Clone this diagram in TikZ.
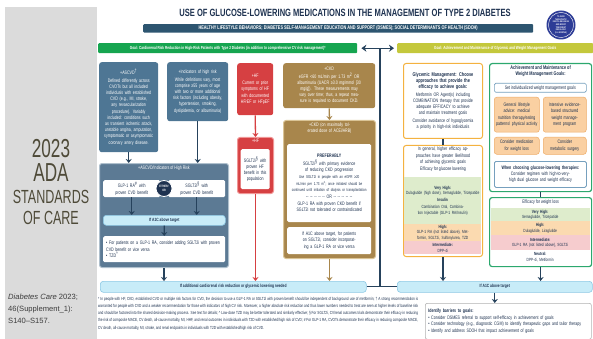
\documentclass[tikz,border=0pt]{standalone}
\usepackage{fontspec}
\setmainfont{Liberation Sans}
\newfontfamily\dfont[FakeStretch=0.72]{Liberation Sans}
\newfontfamily\cfont[FakeStretch=0.66]{Liberation Sans}
\usetikzlibrary{arrows.meta,positioning}

\definecolor{panelgray}{RGB}{219,219,219}
\definecolor{paneltext}{RGB}{78,74,56}
\definecolor{navy}{RGB}{30,50,80}
\definecolor{bannerblue}{RGB}{45,85,112}
\definecolor{sealblue}{RGB}{45,60,150}
\definecolor{goalgreen}{RGB}{22,165,80}
\definecolor{goalolive}{RGB}{196,200,60}
\definecolor{steel}{RGB}{78,118,148}
\definecolor{steeldark}{RGB}{92,122,148}
\definecolor{steelrim}{RGB}{175,192,205}
\definecolor{ifblue}{RGB}{200,236,248}
\definecolor{ifrim}{RGB}{140,200,228}
\definecolor{hfred}{RGB}{214,64,66}
\definecolor{hfrim}{RGB}{240,150,150}
\definecolor{ckdgold}{RGB}{168,134,76}
\definecolor{ckdrim}{RGB}{218,196,150}
\definecolor{glyorange}{RGB}{244,178,64}
\definecolor{wtgreen}{RGB}{44,168,110}
\definecolor{vhband}{RGB}{222,236,204}
\definecolor{hiband}{RGB}{251,218,176}
\definecolor{inband}{RGB}{246,204,206}
\definecolor{wtbox}{RGB}{250,208,162}
\definecolor{wtboxrim}{RGB}{238,172,104}
\definecolor{setrim}{RGB}{118,160,190}
\definecolor{linknavy}{RGB}{38,66,92}
\definecolor{citegray}{RGB}{60,60,60}

\begin{document}
\begin{tikzpicture}[x=1pt,y=-1pt]
\tikzset{txt/.style={font=\dfont\fontsize{5}{6.2}\selectfont, align=center, inner sep=1pt}}
\tikzset{box/.style={txt, rectangle, rounded corners=2.5pt, anchor=north west}}
\tikzset{blue box/.style={box, fill=steel, text=white}}
\tikzset{white box/.style={box, fill=white, text=navy, rounded corners=1.5pt}}
\tikzset{if bar/.style={box, fill=ifblue, draw=ifrim, line width=0.6pt, rounded corners=3pt, text=navy, font=\dfont\bfseries\fontsize{4.6}{5}\selectfont}}
\tikzset{band/.style={txt, rectangle, anchor=north west, text=navy, inner sep=0.5pt, font=\dfont\fontsize{4.5}{5.5}\selectfont}}
\tikzset{goal bar/.style={anchor=north west, text=white, inner sep=0pt, rounded corners=1pt, font=\dfont\bfseries\fontsize{4.4}{5}\selectfont}}
\tikzset{connector/.style={draw=linknavy, line width=1.3pt}}
\tikzset{arrowed/.style={-{Stealth[width=6pt,length=4pt]}}}
\tikzset{big/.style={text=paneltext, inner sep=0pt}}
\useasboundingbox (0,0) rectangle (593,339);

\fill[panelgray] (5,7) rectangle (97,339);
\node[big, font=\cfont\fontsize{26}{26}\selectfont] (yr) at (51,149) {2023};
\node[big, font=\cfont\fontsize{26}{26}\selectfont] (ada) at (51,173) {ADA};
\node[big, font=\cfont\fontsize{19}{19}\selectfont] (std) at (51,197) {STANDARDS};
\node[big, font=\cfont\fontsize{19}{19}\selectfont] (care) at (51,218) {OF CARE};
\node[anchor=north west, align=left, inner sep=0pt, text=citegray, font=\fontsize{7.6}{12}\selectfont] (cite) at (8,294) {\textit{Diabetes Care} 2023;\\46(Supplement\_1):\\S140--S157.};

\node[text=navy, font=\dfont\bfseries\fontsize{10.5}{11}\selectfont] (title) at (345,12.5) {USE OF GLUCOSE-LOWERING MEDICATIONS IN THE MANAGEMENT OF TYPE 2 DIABETES};
\node[goal bar, fill=bannerblue, minimum width=390, minimum height=8.5, font=\dfont\bfseries\fontsize{5.3}{5}\selectfont] (banner) at (143,24) {HEALTHY LIFESTYLE BEHAVIORS; DIABETES SELF-MANAGEMENT EDUCATION AND SUPPORT (DSMES); SOCIAL DETERMINANTS OF HEALTH (SDOH)};
\node[circle, fill=sealblue, minimum size=29, inner sep=0pt, align=center, text=white, font=\dfont\bfseries\fontsize{2.3}{2.7}\selectfont] (seal) at (561,25) {TO AVOID\\THERAPEUTIC\\INERTIA REASSESS\\AND MODIFY\\TREATMENT\\REGULARLY\\(3--6 MONTHS)};
\draw[white, line width=0.4pt] (seal.center) circle (12.6);

\node[goal bar, fill=goalgreen, minimum width=259, minimum height=10] (goalL) at (98,43) {Goal: Cardiorenal Risk Reduction in High-Risk Patients with Type 2 Diabetes (in addition to comprehensive CV risk management)*};
\node[goal bar, fill=goalolive, minimum width=196, minimum height=10] (goalR) at (397,43) {Goal: Achievement and Maintenance of Glycemic and Weight Management Goals};
\draw[connector, {Stealth[width=7pt,length=5pt]}-{Stealth[width=7pt,length=5pt]}] ([xshift=4pt]goalL.east) -- ([xshift=-3pt]goalR.west);
\coordinate (hubtop) at (380,48);

% ASCVD / high risk
\node[blue box, minimum width=59, minimum height=90, text width=53] (ascvd) at (99,62) {+ASCVD\textsuperscript{†}\\[1pt]Defined differently across CVOTs but all included individuals with established CVD (e.g., MI, stroke, any revascularization procedure). Variably included: conditions such as transient ischemic attack, unstable angina, amputation, symptomatic or asymptomatic coronary artery disease.};
\node[blue box, minimum width=61, minimum height=59, text width=54] (hirisk) at (167,62) {+Indicators of high risk\\[1pt]While definitions vary, most comprise ≥55 years of age with two or more additional risk factors (including obesity, hypertension, smoking, dyslipidemia, or albuminuria)};
\node[box, fill=steeldark, draw=steelrim, line width=1pt, minimum width=129, minimum height=104] (combo) at (99,163) {};
\node[txt, text=white, below=1.5pt of combo.north] (comboh) {+ASCVD/Indicators of High Risk};
\node[white box, minimum width=57, minimum height=17, text width=50] (glp) at (103,180) {GLP-1 RA\textsuperscript{\#} with proven CVD benefit};
\node[white box, minimum width=57, minimum height=17, text width=50] (sglt) at (168,180) {SGLT2i\textsuperscript{§} with proven CVD benefit};
\node[circle, fill=navy, draw=white, line width=0.8pt, minimum size=16, inner sep=0pt, align=center, text=white, font=\dfont\bfseries\fontsize{3.2}{3.6}\selectfont] (either) at (164,188.5) {EITHER/\\OR};
\node[if bar, minimum width=122, minimum height=10] (a1cL) at (103,215) {If A1C above target};
\node[white box, minimum width=122, minimum height=26, text width=116, align=left] (tzd) at (103,236) {• For patients on a GLP-1 RA, consider adding SGLT2i with proven CVD benefit or vice versa\\• TZD\textsuperscript{\textasciicircum}};
\draw[connector, arrowed] (ascvd.south) -- (ascvd.south |- combo.north);
\draw[connector, arrowed] (hirisk.south) -- (hirisk.south |- combo.north);
\draw[connector, arrowed] (glp.south) -- (glp.south |- a1cL.north);
\draw[connector, arrowed] (sglt.south) -- (sglt.south |- a1cL.north);
\draw[connector, arrowed] (a1cL.south) -- (tzd.north);

% HF
\node[box, fill=hfred, text=white, minimum width=36, minimum height=52, text width=32] (hf1) at (237,63) {+HF\\[1pt]Current or prior symptoms of HF with documented HFrEF or HFpEF};
\node[box, fill=hfred, draw=hfrim, line width=1pt, minimum width=36, minimum height=56] (hf2) at (237,137) {};
\node[txt, text=white, below=1pt of hf2.north] (hfh) {+HF};
\node[white box, minimum width=29, minimum height=40, text width=27] (hfin) at (240.5,149) {SGLT2i\textsuperscript{§} with proven HF benefit in this population};
\draw[connector, draw=hfred, arrowed] (hf1.south) -- (hf2.north);

% CKD
\node[box, fill=ckdgold, text=white, minimum width=92, minimum height=45, text width=76] (ckd1) at (283,63) {+CKD\\[1pt]eGFR <60 mL/min per 1.73 m\textsuperscript{2} OR albuminuria (UACR ≥3.0 mg/mmol [30 mg/g]). These measurements may vary over time; thus, a repeat measure is required to document CKD.};
\node[box, fill=ckdgold, draw=ckdrim, line width=1pt, minimum width=92, minimum height=138] (ckd2) at (283,120) {};
\node[txt, text=white, text width=80, below=1.5pt of ckd2.north] (ckdh) {+CKD (on maximally tolerated dose of ACEi/ARB)};
\node[white box, minimum width=84, minimum height=78, text width=78] (ckdin) at (287,144) {\textbf{PREFERABLY}\\[1pt]SGLT2i\textsuperscript{§} with primary evidence of reducing CKD progression\\[1.5pt]{\fontsize{4.2}{5.2}\selectfont Use SGLT2i in people with an eGFR ≥20 mL/min per 1.73 m\textsuperscript{2}; once initiated should be continued until initiation of dialysis or transplantation}\\[1pt]-- -- -- -- -- OR -- -- -- -- --\\[1pt]GLP-1 RA with proven CKD benefit if SGLT2i not tolerated or contraindicated};
\node[white box, minimum width=84, minimum height=27, text width=70] (ckdnext) at (287,227) {If A1C above target, for patients on SGLT2i, consider incorporating a GLP-1 RA or vice versa};
\draw[connector, draw=ckdgold, arrowed] (ckd1.south) -- (ckd2.north);

% bottom bars
\node[if bar, minimum width=266, minimum height=11] (barL) at (100,281) {If additional cardiorenal risk reduction or glycemic lowering needed};
\node[if bar, minimum width=195, minimum height=11] (barR) at (397,281) {If A1C above target};
\coordinate (hub) at (hubtop |- barL.east);
\draw[connector] (hubtop) -- (hub);
\draw[connector] (barL.east) -- (barR.west);
\draw[connector, arrowed] (combo.south) -- (combo.south |- barL.north);
\draw[connector, draw=hfred, arrowed] (hf2.south) -- (hf2.south |- barL.north);
\draw[connector, draw=ckdgold, arrowed] (ckd2.south) -- (ckd2.south |- barL.north);

% glycemic
\node[box, fill=white, draw=glyorange, line width=1pt, text=navy, minimum width=79, minimum height=75, text width=68] (gly1) at (403,63) {{\bfseries\fontsize{5.4}{6.4}\selectfont Glycemic Management: Choose approaches that provide the efficacy to achieve goals:}\\[1.5pt]Metformin OR Agent(s) including COMBINATION therapy that provide adequate EFFICACY to achieve and maintain treatment goals\\[1.5pt]Consider avoidance of hypoglycemia a priority in high-risk individuals};
\node[box, fill=white, draw=glyorange, line width=1pt, minimum width=79, minimum height=111] (gly2) at (403,145) {};
\node[txt, text=navy, text width=70, below=1pt of gly2.north] (glyhead) {In general, higher efficacy approaches have greater likelihood of achieving glycemic goals};
\node[txt, text=navy, below=0.5pt of glyhead] (glyeff) {Efficacy for glucose lowering};
\node[band, fill=vhband, minimum width=77, minimum height=47, text width=75] (gvh) at (404,177) {\textbf{Very High:}\\Dulaglutide (high dose), Semaglutide, Tirzepatide\\[1.5pt]\textbf{Insulin}\\[1.5pt]Combination Oral, Combination Injectable (GLP-1 RA/Insulin)};
\node[band, fill=hiband, minimum width=77, minimum height=17, text width=75] (ghi) at (404,224) {\textbf{High:}\\GLP-1 RA (not listed above), Metformin, SGLT2i, Sulfonylurea, TZD};
\node[band, fill=inband, minimum width=77, minimum height=13, text width=75] (gin) at (404,241) {\textbf{Intermediate:}\\DPP-4i};
\draw[connector] (gly1.south) -- (gly2.north);
\draw[connector, arrowed] (gly2.south) -- (gly2.south |- barR.north);

% weight
\node[box, fill=white, draw=wtgreen, line width=1.2pt, minimum width=102, minimum height=128] (wt1) at (489,63) {};
\node[txt, text=navy, below=1.5pt of wt1.north, font=\dfont\bfseries\fontsize{5.3}{6.2}\selectfont] (wth) {Achievement and Maintenance of\\Weight Management Goals:};
\node[white box, draw=setrim, line width=0.6pt, minimum width=92, minimum height=9] (wset) at (494,83) {Set individualized weight management goals};
\node[box, fill=wtbox, draw=wtboxrim, line width=0.5pt, text=navy, minimum width=45, minimum height=35, text width=42] (wa) at (494,97) {General lifestyle advice: medical nutrition therapy/eating patterns/ physical activity};
\node[box, fill=wtbox, draw=wtboxrim, line width=0.5pt, text=navy, minimum width=43, minimum height=35, text width=38] (wb) at (543,97) {Intensive evidence-based structured weight management program};
\node[box, fill=wtbox, draw=wtboxrim, line width=0.5pt, text=navy, minimum width=45, minimum height=17, text width=40] (wc) at (494,137) {Consider medication for weight loss};
\node[box, fill=wtbox, draw=wtboxrim, line width=0.5pt, text=navy, minimum width=43, minimum height=17, text width=38] (wd) at (543,137) {Consider metabolic surgery};
\node[white box, draw=setrim, line width=0.8pt, minimum width=92, minimum height=26, text width=86] (wch) at (494,161) {\textbf{When choosing glucose-lowering therapies:}\\Consider regimen with high-to-very-high dual glucose and weight efficacy};
\node[box, fill=white, draw=wtgreen, line width=1.2pt, minimum width=102, minimum height=69] (wt2) at (489,197) {};
\node[txt, text=navy, below=1.5pt of wt2.north] (wt2h) {Efficacy for weight loss};
\node[band, fill=vhband, minimum width=99, minimum height=13, text width=96] (wvh) at (490.5,208) {\textbf{Very High:}\\Semaglutide, Tirzepatide};
\node[band, fill=hiband, minimum width=99, minimum height=14, text width=96] (whi) at (490.5,221) {\textbf{High:}\\Dulaglutide, Liraglutide};
\node[band, fill=inband, minimum width=99, minimum height=15, text width=96] (win) at (490.5,235) {\textbf{Intermediate:}\\GLP-1 RA (not listed above), SGLT2i};
\node[band, fill=white, minimum width=99, minimum height=14, text width=96] (wne) at (490.5,250) {\textbf{Neutral:}\\DPP-4i, Metformin};
\draw[connector] (wt1.south) -- (wt2.north);
\draw[connector, arrowed] (wt2.south) -- (wt2.south |- barR.north);

% barriers and footnote
\node[box, fill=white, draw=black!30, line width=0.6pt, text=navy, align=left, minimum width=166, minimum height=36, text width=160, rounded corners=2pt, font=\dfont\fontsize{5}{6.8}\selectfont] (barrier) at (425,303) {\textbf{Identify barriers to goals:}\\• Consider DSMES referral to support self-efficacy in achievement of goals\\• Consider technology (e.g., diagnostic CGM) to identify therapeutic gaps and tailor therapy\\• Identify and address SDOH that impact achievement of goals};
\draw[connector, arrowed] (barR.south) -- (barR.south |- barrier.north);
\node[anchor=north west, inner sep=0pt, text width=320, align=justify, text=navy, font=\dfont\fontsize{4.4}{7.2}\selectfont] (notes) at (98,297) {* In people with HF, CKD, established CVD or multiple risk factors for CVD, the decision to use a GLP-1 RA or SGLT2i with proven benefit should be independent of background use of metformin; † A strong recommendation is warranted for people with CVD and a weaker recommendation for those with indicators of high CV risk. Moreover, a higher absolute risk reduction and thus lower numbers needed to treat are seen at higher levels of baseline risk and should be factored into the shared decision-making process. See text for details; \textasciicircum\ Low-dose TZD may be better tolerated and similarly effective; § For SGLT2i, CV/renal outcomes trials demonstrate their efficacy in reducing the risk of composite MACE, CV death, all-cause mortality, MI, HHF, and renal outcomes in individuals with T2D with established/high risk of CVD; \# For GLP-1 RA, CVOTs demonstrate their efficacy in reducing composite MACE, CV death, all-cause mortality, MI, stroke, and renal endpoints in individuals with T2D with established/high risk of CVD.};
\end{tikzpicture}
\end{document}
